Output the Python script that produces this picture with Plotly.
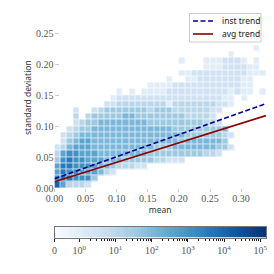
import numpy as np
import plotly.graph_objects as go

# log10(count) in half-decade steps, '.' = empty; bottom row first, one char per 0.01 bin of mean
hist_rows = [
    "852221",
    "6776663",
    "5766555421",
    "577666544322211",
    "367665554443333322111",
    "256655544444444333333333221",
    "12455544444444443334444444331",
    ".134554444444444444434444443",
    ".1234444444444444444433333321",
    "..12334444444444444333333334",
    "...123344444444333333333221",
    "...2.233333443333333322221",
    "...1..123333333233322222211",
    "........112222222202222222110",
    ".........01111111111111111100.0",
    "..........0.0.000011111111110100.0",
    "...............00001111111111100",
    "..................0..00111111100..0",
    "....................00111111111000",
    "........................000111100",
    "....................0...0001110.0",
    "............................0",
    "................................0",
]
mean_edges = [i / 100 for i in range(35)]
std_edges = [i / 100 for i in range(24)]

trend_x = [0.0, 0.34]
inst_trend = [0.015, 0.136]
avg_trend = [0.0102, 0.1168]
legend_labels = ["inst trend", "avg trend"]

x_ticks = [0.00, 0.05, 0.10, 0.15, 0.20, 0.25, 0.30]
y_ticks = [0.00, 0.05, 0.10, 0.15, 0.20, 0.25]
cbar_zero = -0.685
cbar_top = 5.157
cbar_major = [cbar_zero, 0, 1, 2, 3, 4, 5]
cbar_labels = ["0", "10<sup>0</sup>", "10<sup>1</sup>", "10<sup>2</sup>",
               "10<sup>3</sup>", "10<sup>4</sup>", "10<sup>5</sup>"]

z = [[None] * 34 for _ in hist_rows]
for r, row in enumerate(hist_rows):
    for c, ch in enumerate(row[:34]):
        if ch != ".":
            z[r][c] = int(ch) * 0.5

W, H = 274, 274
L, R, T, B = 54.5, 266.0, 8.0, 188.0
Y_MAX = (B - T) / 620.0
GRAY = "#555555"
SERIF = "Liberation Serif, DejaVu Serif, serif"
SANS = "Noto Sans, DejaVu Sans, sans-serif"

fig = go.Figure()
# A faint gapless copy under the gapped cells softens the separating lines.
fig.add_trace(go.Heatmap(
    x=mean_edges, y=std_edges, z=z, colorscale="Blues", zmin=cbar_zero, zmax=cbar_top,
    opacity=0.3, showscale=False, hoverinfo="skip", xaxis="x", yaxis="y"))
fig.add_trace(go.Heatmap(
    x=mean_edges, y=std_edges, z=z, colorscale="Blues", zmin=cbar_zero, zmax=cbar_top,
    xgap=1, ygap=1, showscale=False, hoverinfo="skip", xaxis="x", yaxis="y"))
fig.add_trace(go.Scatter(x=trend_x, y=inst_trend, mode="lines", name="inst trend",
                         line=dict(color="#00008b", width=1.6, dash="5px,2.5px"),
                         xaxis="x", yaxis="y"))
fig.add_trace(go.Scatter(x=trend_x, y=avg_trend, mode="lines", name="avg trend",
                         line=dict(color="#8b0000", width=1.6), xaxis="x", yaxis="y"))

steps = np.linspace(cbar_zero, cbar_top, 65)
fig.add_trace(go.Heatmap(
    x=steps, y=[0, 1], z=[steps[:-1].tolist()], colorscale="Blues", zmin=cbar_zero, zmax=cbar_top,
    showscale=False, hoverinfo="skip", xaxis="x2", yaxis="y2"))

minor = [k + np.log10(m) for k in range(0, 6) for m in range(2, 10) if k + np.log10(m) < cbar_top]


def px(v):
    return v / W


def py(v):
    return 1 - v / H


shapes = [
    dict(type="rect", xref="paper", yref="paper", x0=px(189.5), x1=px(261), y0=py(42), y1=py(13.5),
         line=dict(color="#cccccc", width=1), fillcolor="rgba(255,255,255,0.9)", layer="above"),
    dict(type="line", xref="paper", yref="paper", x0=px(193), x1=px(213), y0=py(21), y1=py(21),
         line=dict(color="#00008b", width=1.6, dash="5px,2.5px"), layer="above"),
    dict(type="line", xref="paper", yref="paper", x0=px(193), x1=px(213), y0=py(34), y1=py(34),
         line=dict(color="#8b0000", width=1.6), layer="above"),
]
annotations = [
    dict(text=legend_labels[0], xref="paper", yref="paper", x=px(219.5), y=py(21), xanchor="left",
         yanchor="middle", showarrow=False, font=dict(family=SANS, size=8.5, color="#222222")),
    dict(text=legend_labels[1], xref="paper", yref="paper", x=px(219.5), y=py(34), xanchor="left",
         yanchor="middle", showarrow=False, font=dict(family=SANS, size=8.5, color="#222222")),
    dict(text="standard deviation", xref="paper", yref="paper", x=px(27), y=py(98), textangle=-90,
         xanchor="center", yanchor="middle", showarrow=False,
         font=dict(family=SANS, size=8.5, color="#333333")),
]

fig.update_layout(
    width=W, height=H, autosize=False, showlegend=False,
    margin=dict(l=0, r=0, t=0, b=0),
    paper_bgcolor="white", plot_bgcolor="white",
    font=dict(family=SERIF, size=10, color=GRAY),
    shapes=shapes, annotations=annotations,
    xaxis=dict(domain=[L / W, R / W], range=[0, 0.34], tickvals=x_ticks, tickformat=".2f",
               ticks="outside", ticklen=3, tickcolor="#cccccc", tickwidth=1, showgrid=False,
               zeroline=False, showline=False, anchor="y", automargin=False, ticklabelstandoff=-2,
               tickfont=dict(family=SERIF, size=10, color=GRAY),
               title=dict(text="mean", font=dict(family=SANS, size=8.5, color="#333333"), standoff=3)),
    yaxis=dict(domain=[1 - B / H, 1 - T / H], range=[0, Y_MAX], tickvals=y_ticks, tickformat=".2f",
               ticks="inside", ticklen=4, tickcolor="#cccccc", tickwidth=1, showgrid=False,
               zeroline=False, showline=False, anchor="x", automargin=False,
               tickfont=dict(family=SERIF, size=10, color=GRAY)),
    xaxis2=dict(domain=[L / W, R / W], range=[cbar_zero, cbar_top], tickmode="array",
                tickvals=cbar_major, ticktext=cbar_labels, ticks="outside", ticklen=3.5,
                tickcolor="#222222", tickwidth=1, showgrid=False, zeroline=False,
                showline=True, linecolor="#777777", linewidth=1, mirror=True, anchor="y2",
                automargin=False, tickfont=dict(family=SERIF, size=10, color=GRAY),
                minor=dict(tickmode="array", tickvals=minor, ticks="outside", ticklen=2,
                           tickcolor="#222222", tickwidth=1)),
    yaxis2=dict(domain=[1 - 237.5 / H, 1 - 226.5 / H], range=[0, 1], showticklabels=False,
                ticks="", showgrid=False, zeroline=False, showline=True, linecolor="#777777",
                linewidth=1, mirror=True, anchor="x2", automargin=False),
)
fig.write_html("out.html", config=dict(displayModeBar=False),
               post_script="document.body.style.margin='0';")
